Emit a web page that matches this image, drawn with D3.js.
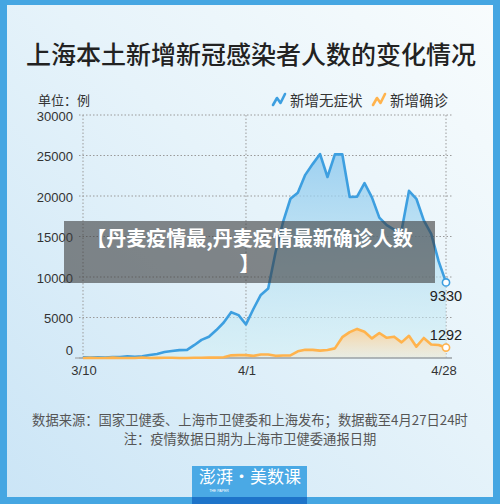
<!DOCTYPE html>
<html><head><meta charset="utf-8">
<script src="https://cdn.jsdelivr.net/npm/d3@7"></script>
<style>
html,body{margin:0;padding:0;background:#45a6e2;}
body{position:relative;width:500px;height:504px;overflow:hidden;}
svg{display:block;}
</style></head>
<body>
<script>
const dates = ["3/10","3/11","3/12","3/13","3/14","3/15","3/16","3/17","3/18","3/19","3/20","3/21","3/22","3/23","3/24","3/25","3/26","3/27","3/28","3/29","3/30","3/31",
"4/1","4/2","4/3","4/4","4/5","4/6","4/7","4/8","4/9","4/10","4/11","4/12","4/13","4/14","4/15","4/16","4/17","4/18","4/19","4/20","4/21","4/22","4/23","4/24","4/25","4/26","4/27","4/28"];
const asymptomatic = [76,64,78,64,128,130,197,150,203,366,492,734,865,977,979,1580,2231,2631,3450,4381,5656,5298,4144,
6051,7788,8581,13086,16766,19660,20398,22609,23937,25173,22348,25141,25146,19872,19923,21582,19831,17332,16407,15861,15698,20634,19657,16983,15319,11956,9330];
const confirmed = [4,11,5,1,41,9,5,8,57,8,17,24,31,4,4,29,38,45,50,96,326,355,358,
260,438,425,268,311,322,824,1015,1006,914,994,1189,2573,3200,3590,3238,2417,3084,2494,2634,1931,2736,1401,2472,1661,1606,1292];
const xTickLabels = ["3/10","4/1","4/28"];
const yTicks = [0,5000,10000,15000,20000,25000,30000];
const seriesNames = ["新增无症状","新增确诊"];
const title = "上海本土新增新冠感染者人数的变化情况";
const unitLabel = "单位：例";
const footer1 = "数据来源：国家卫健委、上海市卫健委和上海发布；数据截至4月27日24时";
const footer2 = "注：疫情数据日期为上海市卫健委通报日期";
const overlayLines = ["【丹麦疫情最,丹麦疫情最新确诊人数","】"];

const W=500,H=504;
const CJK = "'Noto Sans CJK SC','Noto Sans',sans-serif";
const NUM = "'Liberation Sans',Arial,sans-serif";
const svg = d3.select("body").append("svg").attr("width",W).attr("height",H);
const defs = svg.append("defs");

const bg = defs.append("linearGradient").attr("id","bg").attr("x1",0).attr("y1",1).attr("x2",1).attr("y2",0);
bg.append("stop").attr("offset",0).attr("stop-color","#cbe5f6");
bg.append("stop").attr("offset",0.55).attr("stop-color","#e6f3fa");
bg.append("stop").attr("offset",1).attr("stop-color","#f8fcfd");

// frame
svg.append("rect").attr("x",0).attr("y",0).attr("width",W).attr("height",H).attr("fill","#45a6e2");
svg.append("rect").attr("x",7).attr("y",5).attr("width",486).attr("height",492).attr("fill","url(#bg)");

const x = d3.scalePoint().domain(dates).range([83,446]);
const y = d3.scaleLinear().domain([0,30000]).range([358,115]);

const gA = defs.append("linearGradient").attr("id","gA").attr("gradientUnits","userSpaceOnUse")
  .attr("x1",0).attr("y1",y(25000)).attr("x2",0).attr("y2",y(0));
gA.append("stop").attr("offset",0).attr("stop-color","#8cc8ee").attr("stop-opacity",0.8);
gA.append("stop").attr("offset",1).attr("stop-color","#d2f0f4").attr("stop-opacity",0.5);
const gB = defs.append("linearGradient").attr("id","gB").attr("gradientUnits","userSpaceOnUse")
  .attr("x1",0).attr("y1",y(3600)).attr("x2",0).attr("y2",y(0));
gB.append("stop").attr("offset",0).attr("stop-color","#fbd097").attr("stop-opacity",0.9);
gB.append("stop").attr("offset",1).attr("stop-color","#fbe6c8").attr("stop-opacity",0.4);

// grid
const grid = svg.append("g");
grid.selectAll("line.h").data(yTicks.filter(d=>d>0)).join("line")
  .attr("x1",79).attr("x2",452).attr("y1",d=>y(d)).attr("y2",d=>y(d))
  .attr("stroke","#9a9a9a").attr("stroke-width",1).attr("stroke-dasharray","1.5,2");
grid.selectAll("line.v").data(xTickLabels).join("line")
  .attr("x1",d=>x(d)).attr("x2",d=>x(d)).attr("y1",y(30000)).attr("y2",y(0))
  .attr("stroke","#9a9a9a").attr("stroke-width",1).attr("stroke-dasharray","1.5,2");

// areas & lines
const area = vals => d3.area().x((d,i)=>x(dates[i])).y0(y(0)).y1(d=>y(d))(vals);
const line = vals => d3.line().x((d,i)=>x(dates[i])).y(d=>y(d))(vals);
svg.append("path").attr("d",area(asymptomatic)).attr("fill","url(#gA)");
svg.append("path").attr("d",area(confirmed)).attr("fill","url(#gB)");

svg.append("line").attr("x1",79).attr("x2",452).attr("y1",y(0)).attr("y2",y(0))
  .attr("stroke","#9aa0a4").attr("stroke-width",1.5);

svg.append("path").attr("d",line(asymptomatic)).attr("fill","none").attr("stroke","#3d9fe0")
  .attr("stroke-width",2.6).attr("stroke-linejoin","round");
svg.append("path").attr("d",line(confirmed)).attr("fill","none").attr("stroke","#ffb34d")
  .attr("stroke-width",2.6).attr("stroke-linejoin","round");

// end points
const last = dates.length-1;
[[asymptomatic,"#3d9fe0",14],[confirmed,"#ffb34d",-12.5]].forEach(([vals,c,dy])=>{
  svg.append("circle").attr("cx",x(dates[last])).attr("cy",y(vals[last])).attr("r",3.6)
    .attr("fill","#fff").attr("stroke",c).attr("stroke-width",1.6);
  svg.append("text").attr("x",x(dates[last])).attr("y",y(vals[last])+dy)
    .attr("text-anchor","middle").attr("dominant-baseline","central")
    .attr("font-family",NUM).attr("font-size",14.5).attr("fill","#222").text(vals[last]);
});

// y axis labels
svg.selectAll("text.yl").data(yTicks).join("text")
  .attr("x",73).attr("y",d=> d===0 ? y(d)-8 : y(d)+1)
  .attr("text-anchor","end").attr("dominant-baseline","central")
  .attr("font-family",NUM).attr("font-size",13).attr("fill","#333").text(d=>d);
svg.append("line").attr("x1",75).attr("x2",79).attr("y1",y(0)).attr("y2",y(0)).attr("stroke","#9a9a9a");

// x labels
svg.selectAll("text.xl").data(xTickLabels).join("text")
  .attr("x",d=>x(d)+ (d==="4/28"?-2:1)).attr("y",370)
  .attr("text-anchor","middle").attr("dominant-baseline","central")
  .attr("font-family",NUM).attr("font-size",13).attr("fill","#333").text(d=>d);

// title
svg.append("text").attr("x",251).attr("y",53).attr("text-anchor","middle").attr("dominant-baseline","central")
  .attr("font-family",CJK).attr("font-weight",500).attr("font-size",25).attr("fill","#222").text(title);

svg.append("text").attr("x",38).attr("y",99).attr("dominant-baseline","central")
  .attr("font-family",CJK).attr("font-size",13).attr("fill","#333").text(unitLabel);

// legend
const legCols = ["#3d9fe0","#ffb34d"];
const legX = [272,372];
seriesNames.forEach((n,i)=>{
  const g = svg.append("g").attr("transform",`translate(${legX[i]},93)`);
  g.append("polyline").attr("points","1,12 5,5 8.5,10 13,1").attr("fill","none")
    .attr("stroke",legCols[i]).attr("stroke-width",2.6).attr("stroke-linecap","round").attr("stroke-linejoin","round");
  g.append("text").attr("x",18).attr("y",6.5).attr("dominant-baseline","central")
    .attr("font-family",CJK).attr("font-size",14.5).attr("fill","#333").text(n);
});

// footer
svg.append("text").attr("x",250).attr("y",419).attr("text-anchor","middle").attr("dominant-baseline","central")
  .attr("font-family",CJK).attr("font-size",13.3).attr("fill","#555").text(footer1);
svg.append("text").attr("x",250).attr("y",438).attr("text-anchor","middle").attr("dominant-baseline","central")
  .attr("font-family",CJK).attr("font-size",13.3).attr("fill","#555").text(footer2);

// logo
svg.append("rect").attr("x",192).attr("y",466).attr("width",115).attr("height",38).attr("fill","#4aa9e5");
svg.append("rect").attr("x",192).attr("y",497).attr("width",115).attr("height",7).attr("fill","#1e74c9");
svg.append("text").attr("x",250).attr("y",483).attr("text-anchor","middle")
  .attr("font-family",CJK).attr("font-size",17).attr("fill","#fff").text("澎湃·美数课");
svg.append("text").attr("x",219).attr("y",492).attr("text-anchor","middle")
  .attr("font-family",NUM).attr("font-size",3.5).attr("fill","#fff").text("THE PAPER");

// overlay banner (HTML, wrapped text)
const ov = d3.select("body").append("div")
  .style("position","absolute").style("left","64px").style("top","221px")
  .style("width","371px").style("height","62px").style("box-sizing","border-box")
  .style("padding-top","4px").style("background","rgba(60,60,60,0.6)")
  .style("color","#fff").style("text-align","center")
  .style("font-family",CJK).style("font-weight","700").style("font-size","20px")
  .style("line-height","25px");
overlayLines.forEach((t,i)=>{
  ov.append("div").style("height","25px").style("white-space","nowrap").text(t);
});
</script>
</body></html>
